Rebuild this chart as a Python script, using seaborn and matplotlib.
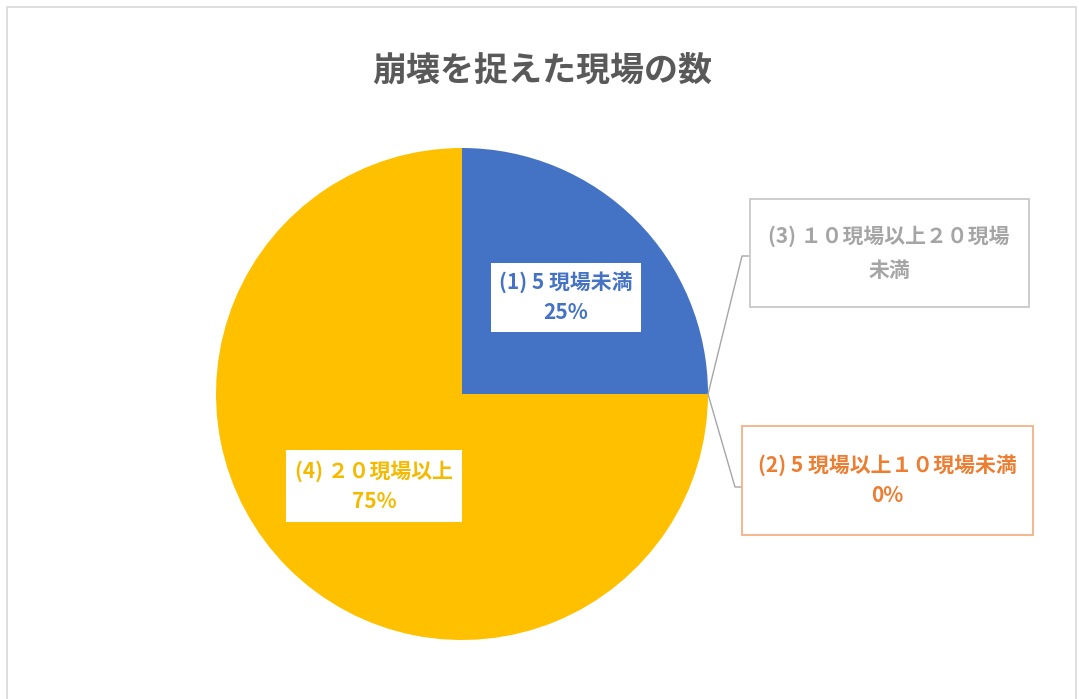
import matplotlib
matplotlib.use("Agg")
import matplotlib.pyplot as plt
from matplotlib.patches import Rectangle
import numpy as np
import seaborn as sns

# ---- data ----
categories = ["(1) 5 現場未満", "(2) 5 現場以上１０現場未満", "(3) １０現場以上２０現場未満", "(4) ２０現場以上"]
values = [1, 0, 0, 3]
slice_colors = ["#4472C4", "#ED7D31", "#A5A5A5", "#FFC000"]
label_lines = [["(1) 5 現場未満"], ["(2) 5 現場以上１０現場未満"], ["(3) １０現場以上２０現場", "未満"], ["(4) ２０現場以上"]]
show_pct = [True, True, False, True]
title = "崩壊を捉えた現場の数"

sns.set_theme(style="white")
plt.rcParams["font.family"] = ["Noto Sans CJK JP", "DejaVu Sans"]

W, H = 1079, 699
fig = plt.figure(figsize=(W / 100, H / 100), dpi=100)
fig.patch.set_facecolor("white")
ax = fig.add_axes([0, 0, 1, 1])

palette = sns.color_palette(slice_colors)
center = (462, H - 394)
radius = 246
wedges, _ = ax.pie(values, colors=palette, startangle=90, counterclock=False,
                   center=center, radius=radius, wedgeprops=dict(linewidth=0))
ax.set_xlim(0, W)
ax.set_ylim(0, H)
ax.set_aspect("equal")
ax.axis("off")

# outer chart-area frame
fig.patches.append(Rectangle((7 / W, -0.01), (1076 - 7) / W, (H - 7) / H + 0.01,
                             transform=fig.transFigure, fill=False,
                             edgecolor="#D9D9D9", linewidth=1.2))

ax.text(542, H - 70, title, ha="center", va="center", fontsize=24.5,
        fontweight="bold", color="#595959")

total = sum(values)
# label box layout: (center x, center y from top, width, height, border, line spacing, leader elbow)
boxes = [
    dict(cx=566, cy=297, w=150, h=69, border=None, ls=1.55, elbow=None),
    dict(cx=887, cy=480, w=291, h=109, border="#F4B183", ls=1.55, elbow=(735, 487, 742)),
    dict(cx=889, cy=253, w=279, h=108, border="#C9C9C9", ls=1.8, elbow=(742, 256, 750)),
    dict(cx=374, cy=486, w=176, h=72, border=None, ls=1.55, elbow=None),
]
text_colors = ["#4472C4", "#ED7D31", "#A5A5A5", "#F5BA00"]

for i, (wdg, b) in enumerate(zip(wedges, boxes)):
    cy = H - b["cy"]
    ax.add_patch(Rectangle((b["cx"] - b["w"] / 2, cy - b["h"] / 2), b["w"], b["h"],
                           facecolor="white",
                           edgecolor=b["border"] if b["border"] else "none",
                           linewidth=1.3, zorder=3))
    lines = list(label_lines[i])
    if show_pct[i]:
        lines.append(f"{values[i] / total * 100:.0f}%")
    ax.text(b["cx"], cy, "\n".join(lines), ha="center", va="center",
            fontsize=15, fontweight="bold", color=text_colors[i],
            linespacing=b["ls"], zorder=4)
    if b["elbow"] is not None:
        ang = np.deg2rad((wdg.theta1 + wdg.theta2) / 2)
        ax_x = wdg.center[0] + wdg.r * np.cos(ang)
        ax_y = wdg.center[1] + wdg.r * np.sin(ang)
        ex, ey, bx = b["elbow"]
        ax.plot([ax_x, ex, bx], [ax_y, H - ey, H - ey], color="#A6A6A6",
                linewidth=1.0, zorder=2)

fig.savefig("out.png", dpi=100, facecolor="white")
